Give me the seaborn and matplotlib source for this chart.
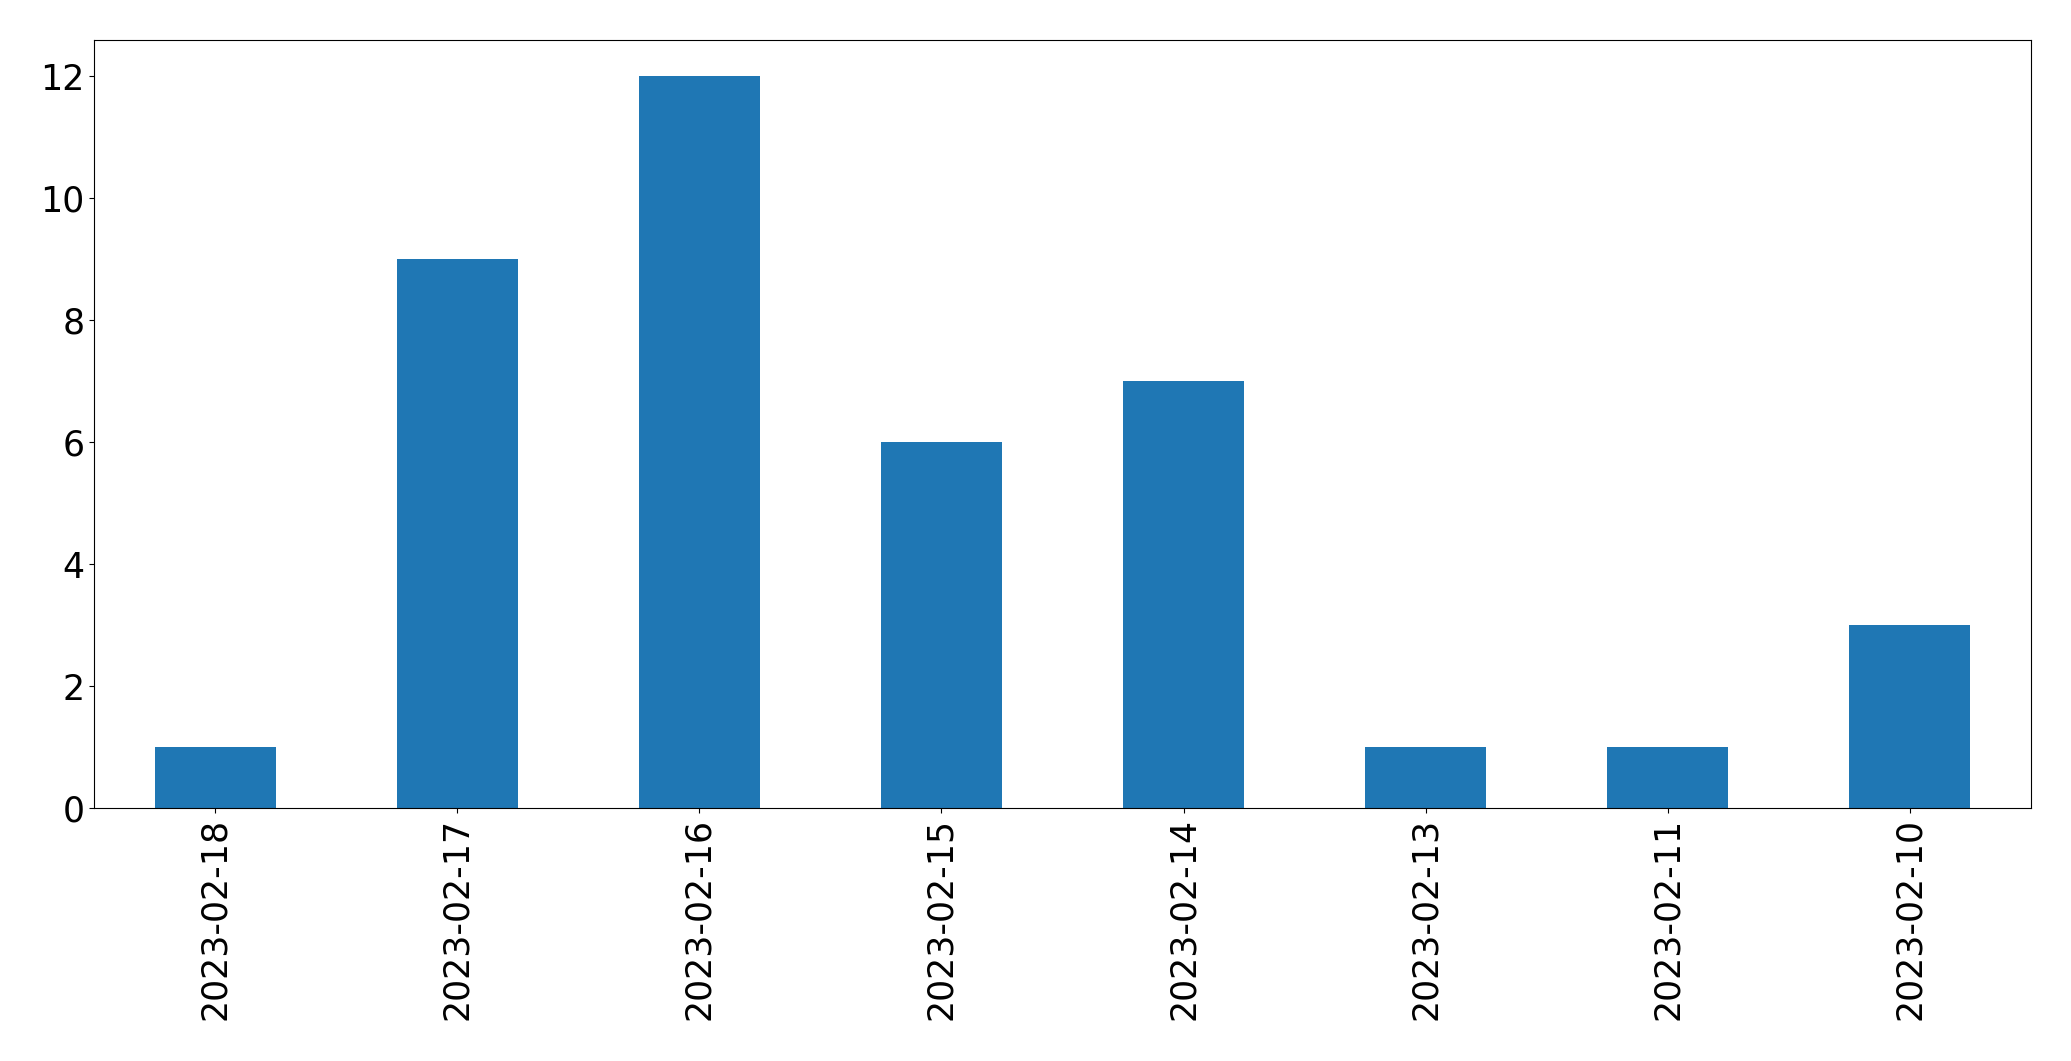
import matplotlib
matplotlib.use("Agg")
import matplotlib.pyplot as plt
import seaborn as sns

# dates as they appear on the x axis (newest first) and counts per date
dates = ["2023-02-18", "2023-02-17", "2023-02-16", "2023-02-15",
         "2023-02-14", "2023-02-13", "2023-02-11", "2023-02-10"]
counts = [1, 9, 12, 6, 7, 1, 1, 3]

fig, ax = plt.subplots(figsize=(20.71, 10.61), dpi=100)
sns.barplot(x=dates, y=counts, color="#1f77b4", saturation=1, width=0.5, ax=ax)

ax.tick_params(axis="both", labelsize=25)
ax.tick_params(axis="x", labelrotation=90)
ax.set_xlabel("")
ax.set_ylabel("")

plt.subplots_adjust(left=0.0454, right=0.9807, top=0.9627, bottom=0.2381)
plt.savefig("out.png", dpi=100)
